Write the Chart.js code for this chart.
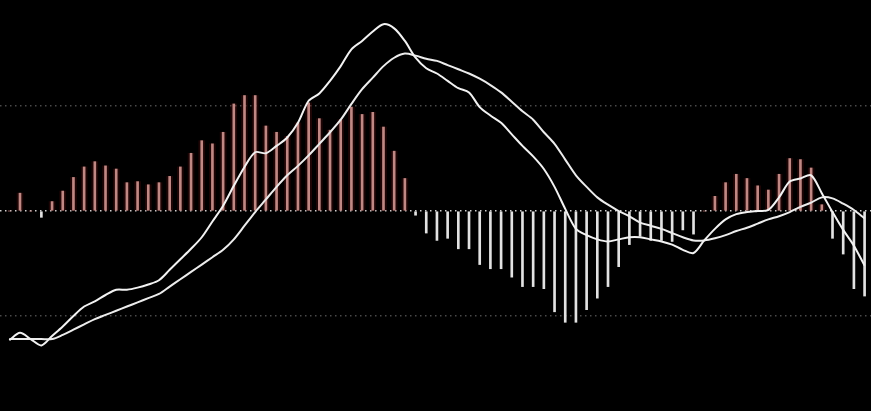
<!DOCTYPE html>
<html>
<head>
<meta charset="utf-8">
<script src="https://cdn.jsdelivr.net/npm/chart.js@4/dist/chart.umd.min.js"></script>
<style>
  html, body { margin: 0; padding: 0; background: #000; }
  #wrap { width: 871px; height: 411px; position: relative; }
</style>
</head>
<body>
<div id="wrap"><canvas id="macdChart"></canvas></div>
<script>
// bar index (one per period)
const periods = Array.from({ length: 81 }, (_, i) => i)

// MACD histogram
const histogram = [
  0, 0.17, 0, -0.06, 0.09, 0.19, 0.32, 0.42, 0.47, 0.43,
  0.40, 0.27, 0.28, 0.25, 0.27, 0.33, 0.42, 0.55, 0.67, 0.64,
  0.75, 1.02, 1.10, 1.10, 0.81, 0.75, 0.71, 0.84, 1.03, 0.88,
  0.77, 0.87, 0.99, 0.92, 0.94, 0.80, 0.57, 0.31, -0.04, -0.21,
  -0.28, -0.26, -0.36, -0.36, -0.51, -0.55, -0.55, -0.63, -0.72, -0.72,
  -0.74, -0.96, -1.06, -1.06, -0.94, -0.83, -0.72, -0.53, -0.32, -0.24,
  -0.28, -0.28, -0.29, -0.18, -0.22, 0, 0.14, 0.27, 0.35, 0.31,
  0.24, 0.20, 0.35, 0.50, 0.49, 0.41, 0.06, -0.26, -0.41, -0.74,
  -0.81
]

// DIF (fast line)
const dif = [
  -1.23, -1.16, -1.22, -1.28, -1.19, -1.10, -1.00, -0.91, -0.86, -0.80,
  -0.75, -0.75, -0.73, -0.70, -0.66, -0.56, -0.46, -0.36, -0.25, -0.10,
  0.05, 0.24, 0.42, 0.56, 0.55, 0.62, 0.70, 0.84, 1.05, 1.12,
  1.24, 1.38, 1.54, 1.62, 1.71, 1.78, 1.74, 1.62, 1.46, 1.36,
  1.31, 1.24, 1.17, 1.13, 0.99, 0.91, 0.84, 0.73, 0.62, 0.52,
  0.40, 0.23, 0.02, -0.17, -0.23, -0.27, -0.29, -0.27, -0.25, -0.25,
  -0.27, -0.29, -0.32, -0.37, -0.40, -0.28, -0.17, -0.08, -0.03, -0.01,
  0, 0.01, 0.13, 0.28, 0.31, 0.34, 0.17, -0.01, -0.18, -0.33,
  -0.52
]

// DEA (signal line)
const dea = [
  -1.22, -1.22, -1.22, -1.22, -1.22, -1.18, -1.13, -1.08, -1.03, -0.99,
  -0.95, -0.91, -0.87, -0.83, -0.79, -0.72, -0.65, -0.58, -0.51, -0.44,
  -0.37, -0.27, -0.14, -0.01, 0.11, 0.23, 0.34, 0.43, 0.53, 0.64,
  0.75, 0.87, 1.02, 1.16, 1.27, 1.38, 1.46, 1.50, 1.48, 1.45,
  1.43, 1.39, 1.35, 1.31, 1.26, 1.20, 1.13, 1.04, 0.95, 0.87,
  0.75, 0.64, 0.49, 0.34, 0.23, 0.13, 0.06, 0, -0.05, -0.11,
  -0.14, -0.17, -0.21, -0.25, -0.28, -0.28, -0.26, -0.23, -0.19, -0.16,
  -0.12, -0.08, -0.05, -0.01, 0.04, 0.08, 0.13, 0.12, 0.07, 0.01,
  -0.07
]

// dotted reference levels
const levels = [-1, 0, 1]

const toPoints = values => values.map((v, i) => ({ x: periods[i], y: v }))

const barColor = ctx => (ctx.parsed && ctx.parsed.y >= 0 ? '#c08884' : '#e2e2e2')
const glowColor = ctx => (ctx.parsed && ctx.parsed.y >= 0 ? 'rgba(100, 18, 18, 0.3)' : 'rgba(0, 0, 0, 0)')

const chartElement = document.getElementById('macdChart')

// eslint-disable-next-line no-unused-vars
const macdChart = new Chart(chartElement, {
  type: 'bar',
  data: {
    datasets: [
      {
        type: 'line',
        label: 'DIF',
        data: toPoints(dif),
        borderColor: '#f2f2f2',
        borderWidth: 2,
        pointRadius: 0,
        tension: 0.3,
        order: 0
      },
      {
        type: 'line',
        label: 'DEA',
        data: toPoints(dea),
        borderColor: '#ececec',
        borderWidth: 2,
        pointRadius: 0,
        tension: 0.3,
        order: 1
      },
      {
        label: 'MACD',
        data: toPoints(histogram),
        backgroundColor: barColor,
        barThickness: 2,
        grouped: false,
        order: 2
      },
      {
        label: 'glow',
        data: toPoints(histogram),
        backgroundColor: glowColor,
        barThickness: 6,
        grouped: false,
        order: 3
      }
    ]
  },
  options: {
    responsive: true,
    maintainAspectRatio: false,
    animation: false,
    layout: { padding: 0 },
    plugins: {
      legend: { display: false },
      tooltip: { enabled: false }
    },
    scales: {
      x: {
        type: 'linear',
        display: false,
        offset: false,
        min: -0.87,
        max: 80.6
      },
      y: {
        min: -1.905,
        max: 2.01,
        afterBuildTicks: axis => {
          axis.ticks = levels.map(value => ({ value }))
        },
        ticks: { display: false },
        border: { display: false, dash: [1.5, 3.5] },
        grid: {
          drawTicks: false,
          lineWidth: 1.5,
          color: ctx => (ctx.tick && ctx.tick.value === 0 ? '#d0d0d0' : '#4a4a4a')
        }
      }
    }
  }
})
</script>
</body>
</html>
